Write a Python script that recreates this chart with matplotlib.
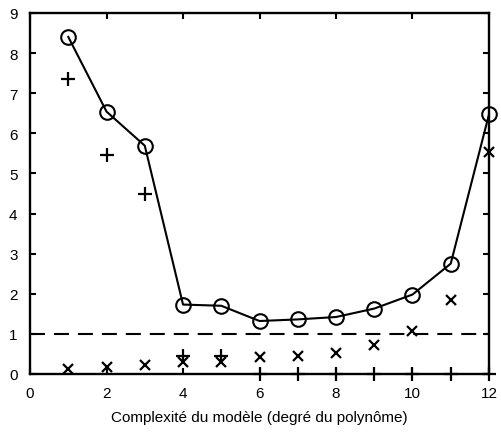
import matplotlib.pyplot as plt

plt.rcParams['font.family'] = ['Liberation Sans', 'DejaVu Sans']

# degré du polynôme
degres = [1, 2, 3, 4, 5, 6, 7, 8, 9, 10, 11, 12]
# erreur totale (cercles reliés)
erreur = [8.40, 6.54, 5.69, 1.73, 1.70, 1.32, 1.36, 1.42, 1.63, 1.98, 2.75, 6.47]
# biais (+)
biais = [7.36, 5.46, 4.49, 0.46, 0.46, 0, 0, 0, 0, 0, 0, 0]
# variance (x)
variance = [0.13, 0.17, 0.23, 0.29, 0.29, 0.42, 0.46, 0.52, 0.72, 1.08, 1.85, 5.54]
bruit = 1.0

fig = plt.figure(figsize=(5.01, 4.35), dpi=100)
ax = fig.add_axes([0.06, 0.138, 0.916, 0.83])

ax.axhline(bruit, color='black', lw=1.5, ls=(0, (7.2, 4.3)), zorder=1)
ax.plot(degres, erreur, color='black', lw=1.5, marker='o', markersize=10.5,
        markerfacecolor='none', markeredgewidth=1.5, clip_on=False, zorder=3)
ax.plot(degres, biais, ls='none', color='black', marker='+', markersize=10,
        markeredgewidth=1.6, clip_on=False, zorder=3)
ax.plot(degres, variance, ls='none', color='black', marker='x', markersize=7,
        markeredgewidth=1.6, clip_on=False, zorder=3)

ax.set_xlim(0, 12)
ax.set_ylim(0, 9)
ax.set_xticks(range(0, 13, 2))
ax.set_yticks(range(0, 10))
ax.tick_params(direction='in', length=4, width=1.5, top=True, right=True,
               labelsize=11, pad=9)
for s in ax.spines.values():
    s.set_linewidth(1.7)

ax.set_xlabel('Complexité du modèle (degré du polynôme)', fontsize=11, labelpad=7)

fig.savefig('out.png', dpi=100)
